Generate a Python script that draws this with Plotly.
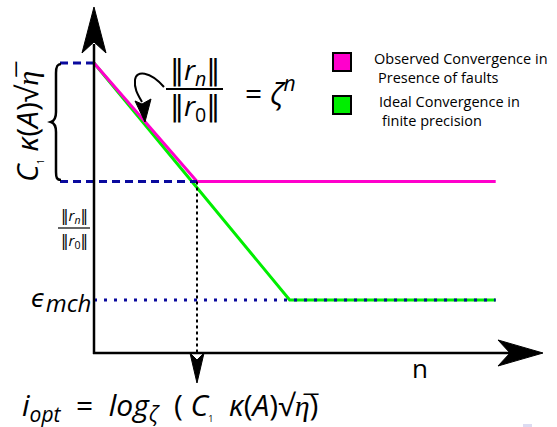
import plotly.graph_objects as go

# ---------------- data (conceptual units: iteration n, log10 residual) -------------
iter_observed = [0, 5, 19.5]
logres_observed = [0, -6, -6]
iter_ideal = [0, 9.5, 19.5]
logres_ideal = [0, -12, -12]
n_opt = 5            # optimal iteration (knee of the observed curve)
level_fault = -6     # plateau reached in presence of faults
level_eps = -12      # machine precision level
n_end = 19.5
n_left_guide = -1.65
y_axis_bottom = -14.63

legend_lines = ["Observed Convergence in", "Presence of faults",
                "Ideal Convergence in", "finite precision"]
colors = {"observed": "#ff00cc", "ideal": "#00ee00", "guide": "#0a0a9e"}

W, H = 557, 427
PX_X0, PX_PER_N = 94, 20.6
PX_Y0, PX_PER_V = 63, 19.75
x_range = [(0 - PX_X0) / PX_PER_N, (W - PX_X0) / PX_PER_N]
y_range = [(PX_Y0 - H) / PX_PER_V, PX_Y0 / PX_PER_V]


def fx(x):
    return x / W


def fy(y):
    return 1 - y / H


def path(pts, close=True):
    s = "M " + " L ".join(f"{fx(x):.5f},{fy(y):.5f}" for x, y in pts)
    return s + (" Z" if close else "")


fig = go.Figure()

# ideal (green) and observed (magenta) convergence
fig.add_trace(go.Scatter(x=iter_ideal, y=logres_ideal, mode="lines",
                         line=dict(color=colors["ideal"], width=3), showlegend=False))
fig.add_trace(go.Scatter(x=iter_observed, y=logres_observed, mode="lines",
                         line=dict(color=colors["observed"], width=3), showlegend=False))
# machine-precision dotted line
fig.add_trace(go.Scatter(x=[0, n_end], y=[level_eps, level_eps], mode="lines",
                         line=dict(color=colors["guide"], width=3, dash="3px,7px"),
                         showlegend=False))
# dashed guides
fig.add_trace(go.Scatter(x=[n_left_guide, 0], y=[0, 0], mode="lines",
                         line=dict(color=colors["guide"], width=3, dash="8px,5px"),
                         showlegend=False))
fig.add_trace(go.Scatter(x=[n_left_guide, n_opt], y=[level_fault, level_fault], mode="lines",
                         line=dict(color=colors["guide"], width=3, dash="8px,5px"),
                         showlegend=False))
# vertical dotted line at n_opt
fig.add_trace(go.Scatter(x=[n_opt, n_opt], y=[level_fault, y_axis_bottom], mode="lines",
                         line=dict(color="black", width=2, dash="3px,3px"),
                         showlegend=False))

shapes = []
# axes
shapes.append(dict(type="line", xref="paper", yref="paper", x0=fx(94), y0=fy(354),
                   x1=fx(94), y1=fy(44), line=dict(color="black", width=2.5)))
shapes.append(dict(type="line", xref="paper", yref="paper", x0=fx(93), y0=fy(353),
                   x1=fx(512), y1=fy(353), line=dict(color="black", width=2.5)))
# arrow heads
for pts in ([(94, 7), (106, 53), (94, 42), (82, 53)],
            [(543, 353), (498, 340), (510, 353), (498, 366)],
            [(197, 383), (204, 353), (197, 360), (190, 353)],
            [(145, 122), (151, 99), (142, 104), (135, 101)]):
    shapes.append(dict(type="path", xref="paper", yref="paper", path=path(pts),
                       fillcolor="black", line=dict(color="black", width=1)))
# curved arrow stem
curve = (f"M {fx(164):.5f},{fy(87):.5f} C {fx(150):.5f},{fy(71):.5f} "
         f"{fx(136):.5f},{fy(70):.5f} {fx(135):.5f},{fy(80):.5f} "
         f"C {fx(134):.5f},{fy(89):.5f} {fx(138):.5f},{fy(95):.5f} {fx(142):.5f},{fy(102):.5f}")
shapes.append(dict(type="path", xref="paper", yref="paper", path=curve,
                   line=dict(color="black", width=2)))
# curly brace
brace = (f"M {fx(61):.5f},{fy(64):.5f} C {fx(57):.5f},{fy(64):.5f} {fx(56):.5f},{fy(67):.5f} {fx(56):.5f},{fy(73):.5f} "
         f"L {fx(56):.5f},{fy(112):.5f} C {fx(56):.5f},{fy(118):.5f} {fx(54):.5f},{fy(121):.5f} {fx(51):.5f},{fy(122):.5f} "
         f"C {fx(54):.5f},{fy(123):.5f} {fx(56):.5f},{fy(126):.5f} {fx(56):.5f},{fy(132):.5f} "
         f"L {fx(56):.5f},{fy(172):.5f} C {fx(56):.5f},{fy(178):.5f} {fx(57):.5f},{fy(180):.5f} {fx(61):.5f},{fy(180):.5f}")
shapes.append(dict(type="path", xref="paper", yref="paper", path=brace,
                   line=dict(color="black", width=2.5)))
# fraction bars
shapes.append(dict(type="line", xref="paper", yref="paper", x0=fx(166), y0=fy(89),
                   x1=fx(223), y1=fy(89), line=dict(color="black", width=2)))
shapes.append(dict(type="line", xref="paper", yref="paper", x0=fx(58), y0=fy(228),
                   x1=fx(90), y1=fy(228), line=dict(color="black", width=1.2)))
# legend squares
for (y0, y1), c in zip([(53, 71), (96, 114)], [colors["observed"], colors["ideal"]]):
    shapes.append(dict(type="rect", xref="paper", yref="paper", x0=fx(333), x1=fx(351),
                       y0=fy(y1), y1=fy(y0), fillcolor=c, line=dict(color="black", width=2)))
# beamer nav hint
shapes.append(dict(type="rect", xref="paper", yref="paper", x0=fx(523), x1=fx(532),
                   y0=fy(427), y1=fy(424), fillcolor="#dcdcf2", line=dict(width=0)))

FONT = "Open Sans"
ann = []


def text(x, y, t, size, xanchor="center", angle=0, family=FONT):
    ann.append(dict(x=fx(x), y=fy(y), xref="paper", yref="paper", text=t, showarrow=False,
                    xanchor=xanchor, yanchor="middle", textangle=angle,
                    font=dict(family=family, size=size, color="black")))


NORM = "<span style='font-family:DejaVu Sans'>‖</span>"
SQRT_ETA = "√<i>η\u0305</i>"
C1 = "<i>C</i><sub><span style='font-size:9px'>1</span></sub>"
NUM = NORM + "<i>r<sub>n</sub></i>" + NORM
DEN = NORM + "<i>r</i><sub>0</sub>" + NORM

# big ratio formula
text(195, 71, NUM, 28)
text(195, 107, DEN, 28)
text(243, 91, "= <i>ζ<sup>n</sup></i>", 30, xanchor="left")
# small ratio label
text(74, 216, NUM, 15)
text(74, 241, DEN, 15)
# rotated label
text(26, 122, C1 + " <i>κ</i>(<i>A</i>)" + SQRT_ETA, 30, angle=-90)
# epsilon with machine subscript
text(93, 302, "<span style='font-family:DejaVu Sans'><i>ϵ</i></span>"
     "<sub><span style='font-size:24px'><i>mch</i></span></sub>", 24, xanchor="right")
# n label
text(420, 368, "n", 26)
# bottom formula
text(20, 406, "<i>i<sub>opt</sub></i>  =  <i>log<sub>ζ</sub></i>  ( " + C1 + "  <i>κ</i>(<i>A</i>)" + SQRT_ETA + ")",
     30, xanchor="left")
# legend
for (x, y), t in zip([(372, 58), (376, 78), (377, 101), (380, 121)], legend_lines):
    text(x, y, t, 14.5, xanchor="left")

fig.update_layout(
    width=W, height=H, autosize=False,
    margin=dict(l=0, r=0, t=0, b=0, pad=0),
    paper_bgcolor="white", plot_bgcolor="white",
    xaxis=dict(range=x_range, visible=False, fixedrange=True),
    yaxis=dict(range=y_range, visible=False, fixedrange=True),
    shapes=shapes, annotations=ann, showlegend=False,
)

fig.write_html("out.html", config={"displayModeBar": False},
               post_script="document.body.style.margin='0';")
